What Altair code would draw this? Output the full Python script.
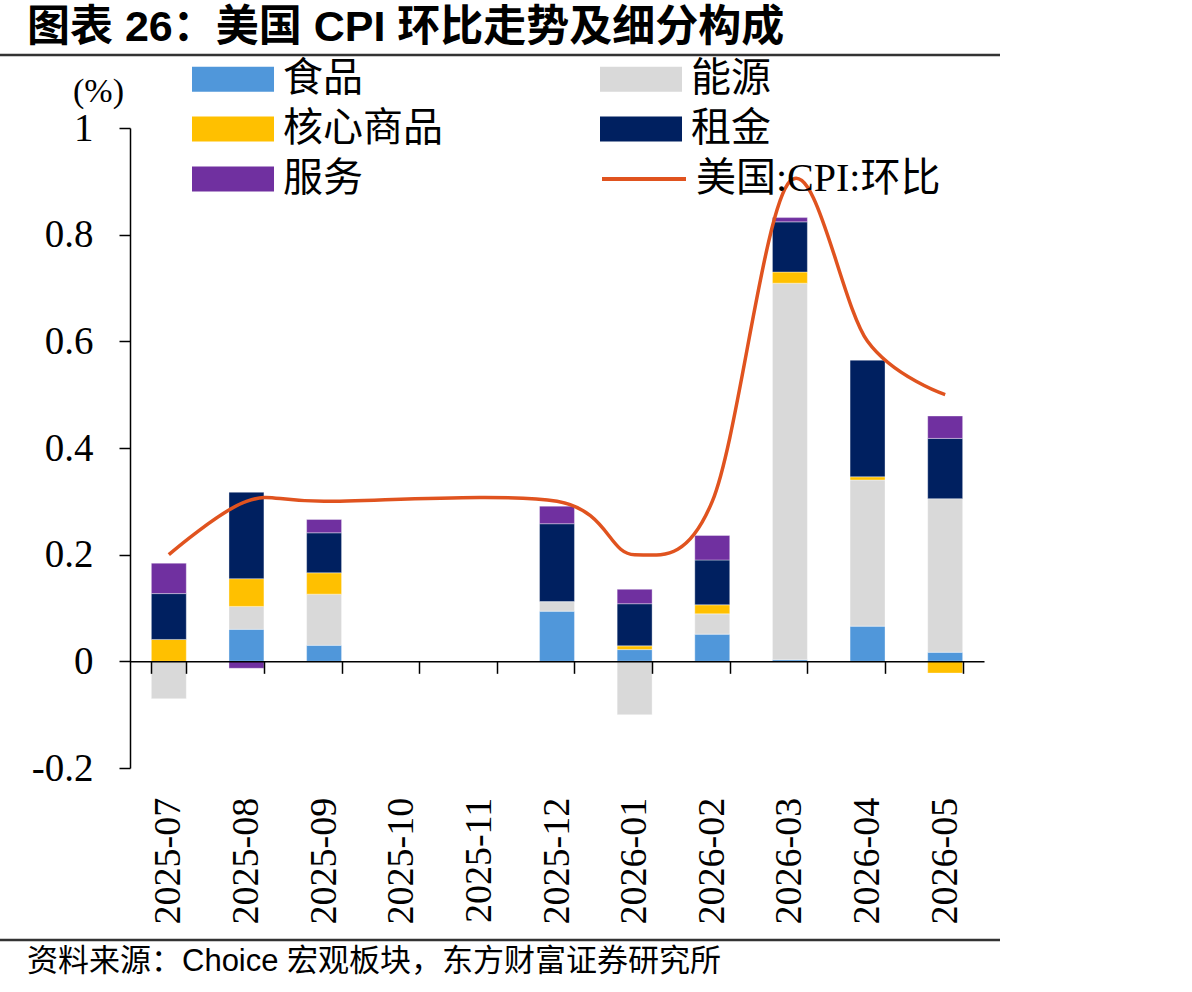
import altair as alt
import pandas as pd

months = ["2025-07", "2025-08", "2025-09", "2025-10", "2025-11", "2025-12",
          "2026-01", "2026-02", "2026-03", "2026-04", "2026-05"]
food     = [0.000, 0.060, 0.030, None, None, 0.094, 0.022, 0.051, 0.003, 0.066, 0.017]
energy   = [-0.070, 0.043, 0.096, None, None, 0.018, -0.100, 0.038, 0.706, 0.274, 0.288]
core     = [0.041, 0.052, 0.040, None, None, 0.000, 0.007, 0.017, 0.021, 0.006, -0.022]
rent     = [0.086, 0.162, 0.075, None, None, 0.146, 0.079, 0.084, 0.094, 0.219, 0.113]
services = [0.057, -0.013, 0.025, None, None, 0.033, 0.027, 0.046, 0.008, 0.000, 0.042]
cpi      = [0.20, 0.30, 0.30, None, None, 0.30, 0.20, 0.30, 0.90, 0.60, 0.50]

series_names = ["食品", "能源", "核心商品", "租金", "服务"]
series_colors = {"食品": "#5097DA", "能源": "#D9D9D9", "核心商品": "#FFC000",
                 "租金": "#002060", "服务": "#7030A0"}
# legend fills column by column: 食品 / 核心商品 / 服务 | 能源 / 租金
legend_order = ["食品", "核心商品", "服务", "能源", "租金"]
line_name = "美国:CPI:环比"
line_color = "#E0531F"
y_ticks = [-0.2, 0, 0.2, 0.4, 0.6, 0.8, 1]
title_text = "图表 26：美国 CPI 环比走势及细分构成"
source_text = "资料来源：Choice 宏观板块，东方财富证券研究所"

rows = []
for k, (name, vals) in enumerate(zip(series_names, [food, energy, core, rent, services])):
    for m, v in zip(months, vals):
        if v is not None:
            rows.append({"month": m, "series": name, "order": k, "value": v})
bars_df = pd.DataFrame(rows)
line_df = pd.DataFrame({"month": months, "cpi": cpi, "series": [line_name] * len(months)})

SERIF = "Liberation Serif"
MIXED = "Liberation Serif, Noto Sans CJK SC"

x_axis = alt.Axis(title=None, labelAngle=-90, labelFont=SERIF, labelFontSize=38,
                  labelColor="black", labelPadding=124, tickSize=12, tickColor="black",
                  tickWidth=1.5, tickBand="extent", domainColor="black", domainWidth=1.5,
                  offset=-106.67, zindex=1, grid=False)
x_enc = alt.X("month:N", scale=alt.Scale(domain=months, paddingInner=0.55, paddingOuter=0.275),
              axis=x_axis)

y_axis = alt.Axis(values=y_ticks, labelExpr="'' + datum.value", title="(%)", titleAngle=0,
                  titleX=-32, titleY=-37, titleAlign="center", titleBaseline="middle",
                  titleFont=SERIF, titleFontSize=34, titleFontWeight="normal", titleColor="black",
                  labelFont=SERIF, labelFontSize=39, labelColor="black", labelPadding=26,
                  tickSize=11, tickColor="black", tickWidth=1.5, domainColor="black",
                  domainWidth=1.5, grid=False)
y_scale = alt.Scale(domain=[-0.2, 1], nice=False, zero=False)

bars = alt.Chart(bars_df).mark_bar(stroke="white", strokeWidth=0.6, strokeOpacity=0.6).encode(
    x=x_enc,
    y=alt.Y("value:Q", stack="zero", scale=y_scale, axis=y_axis),
    color=alt.Color("series:N",
                    scale=alt.Scale(domain=legend_order,
                                    range=[series_colors[s] for s in legend_order]),
                    legend=alt.Legend(title=None, orient="none", legendX=62, legendY=-78.5,
                                      columns=2, columnPadding=157, rowPadding=0,
                                      symbolType="M-1,-0.424H1.78V0.424H-1Z", symbolSize=3481,
                                      symbolStrokeWidth=0, symbolOpacity=1,
                                      labelFont=MIXED, labelFontSize=40, labelColor="black",
                                      labelOffset=32, padding=0, labelLimit=400)),
    order=alt.Order("order:Q", sort="ascending"),
)

line = alt.Chart(line_df).transform_filter("isValid(datum.cpi) && isFinite(datum.cpi)").mark_line(
    strokeWidth=3.5, interpolate="cardinal", tension=0
).encode(
    x=x_enc,
    y=alt.Y("cpi:Q", scale=y_scale, axis=y_axis),
    stroke=alt.Stroke("series:N", scale=alt.Scale(domain=[line_name], range=[line_color]),
                      legend=alt.Legend(title=None, orient="none", legendX=470, legendY=7,
                                        symbolType="stroke", symbolSize=7056,
                                        symbolStrokeWidth=4, labelFont=MIXED,
                                        labelFontSize=40, labelColor="black",
                                        labelOffset=8, padding=0, labelLimit=400)),
)

deco = pd.DataFrame({"k": [0]})
top_rule = alt.Chart(deco).mark_rule(color="#333333", strokeWidth=2.5).encode(
    x=alt.value(-130), x2=alt.value(870), y=alt.value(-73))
bottom_rule = alt.Chart(deco).mark_rule(color="#333333", strokeWidth=2.5).encode(
    x=alt.value(-130), x2=alt.value(870), y=alt.value(812))

title = alt.Chart(pd.DataFrame({"label": [title_text]})).mark_text(
    align="left", baseline="middle", font="Liberation Sans, Noto Sans CJK SC",
    fontSize=43, fontWeight="bold", color="black"
).encode(text="label:N", x=alt.value(-103), y=alt.value(-100))

source = alt.Chart(pd.DataFrame({"label": [source_text]})).mark_text(
    align="left", baseline="middle", font="Liberation Sans, Noto Sans CJK SC",
    fontSize=31, color="black"
).encode(text="label:N", x=alt.value(-103), y=alt.value(834))

chart = alt.layer(bars, line, top_rule, bottom_rule, title, source).properties(
    width=854, height=640,
    autosize=alt.AutoSizeParams(type="none"),
    padding={"left": 130, "top": 128, "right": 208, "bottom": 224},
).configure_view(stroke=None)

chart.save("out.html", embed_options={"renderer": "svg", "actions": False})
